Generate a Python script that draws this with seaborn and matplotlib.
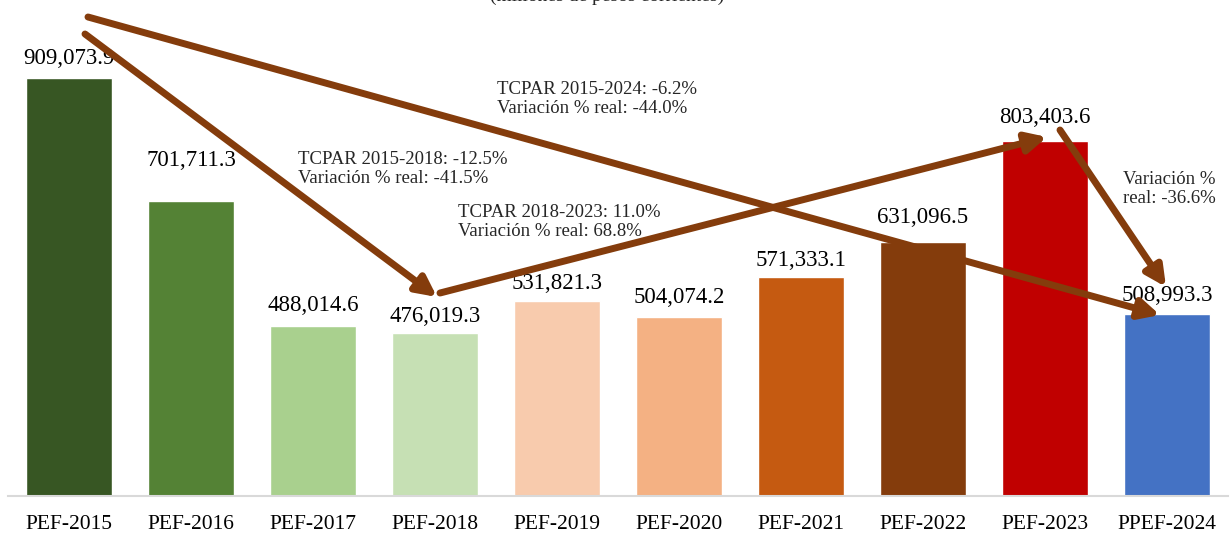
import matplotlib
matplotlib.use("Agg")
import matplotlib.pyplot as plt
import seaborn as sns
import pandas as pd

categories = ["PEF-2015", "PEF-2016", "PEF-2017", "PEF-2018", "PEF-2019",
              "PEF-2020", "PEF-2021", "PEF-2022", "PEF-2023", "PPEF-2024"]
values = [909073.9, 701711.3, 488014.6, 476019.3, 531821.3,
          504074.2, 571333.1, 631096.5, 803403.6, 508993.3]
colors = ["#375623", "#548235", "#A9D08E", "#C6E0B4", "#F8CBAD",
          "#F4B183", "#C55A11", "#843C0C", "#C00000", "#4472C4"]
title = "(millones de pesos corrientes)"

sns.set_theme(style="white")
plt.rcParams["font.family"] = ["Liberation Serif", "DejaVu Serif"]

df = pd.DataFrame({"cat": categories, "val": values})

Y0 = 200000
UPP = 1698  # data units per pixel

fig = plt.figure(figsize=(12.31, 5.38), dpi=100)
ax = fig.add_axes([8 / 1231, 42 / 538, 1220 / 1231, 496 / 538])
sns.barplot(data=df, x="cat", y="val", hue="cat", palette=colors,
            legend=False, width=0.71, ax=ax, saturation=1)
ax.set_xlim(-0.5, 9.5)
ax.set_ylim(Y0, Y0 + 496 * UPP)
ax.set_xlabel("")
ax.set_ylabel("")
ax.set_yticks([])
for s in ["top", "left", "right"]:
    ax.spines[s].set_visible(False)
ax.spines["bottom"].set_color("#D9D9D9")
ax.spines["bottom"].set_linewidth(1.5)
ax.tick_params(axis="x", length=0, pad=14, labelsize=15.5, labelcolor="black")

# value labels (offset of label centre above bar top, in points)
offs = [14, 29, 15, 12, 12, 14, 12, 18, 17, 13]
for i, (v, o) in enumerate(zip(values, offs)):
    ax.annotate(f"{v:,.1f}", (i, v), xytext=(0, o), textcoords="offset points",
                ha="center", va="center", fontsize=16.5, color="black")

arrow_color = "#843C0C"
aprops = dict(arrowstyle="-|>", lw=5, color=arrow_color, mutation_scale=30,
              shrinkA=0, shrinkB=0)

def px(xp, yp):
    return ((xp - 8) / 122 - 0.5, Y0 + (496 - yp) * UPP)

ax.annotate("", xy=px(1160, 315), xytext=px(88, 17), arrowprops=aprops, annotation_clip=False)
ax.annotate("", xy=px(437, 297), xytext=px(85, 34), arrowprops=aprops, annotation_clip=False)
ax.annotate("", xy=px(1047, 137), xytext=px(440, 293), arrowprops=aprops, annotation_clip=False)
ax.annotate("", xy=px(1166, 287), xytext=px(1060, 130), arrowprops=aprops, annotation_clip=False)

tsize = 13.5
ax.text(*px(497, 99), "TCPAR 2015-2024: -6.2%\nVariación % real: -44.0%",
        fontsize=tsize, ha="left", va="center", linespacing=1.2)
ax.text(*px(298, 169), "TCPAR 2015-2018: -12.5%\nVariación % real: -41.5%",
        fontsize=tsize, ha="left", va="center", linespacing=1.2)
ax.text(*px(458, 222), "TCPAR 2018-2023: 11.0%\nVariación % real: 68.8%",
        fontsize=tsize, ha="left", va="center", linespacing=1.2)
ax.text(*px(1123, 189), "Variación %\nreal: -36.6%",
        fontsize=tsize, ha="left", va="center", linespacing=1.2)

fig.text(607 / 1231, 1 - 1 / 538, title, ha="center", va="baseline", fontsize=14)

fig.savefig("out.png", dpi=100)
